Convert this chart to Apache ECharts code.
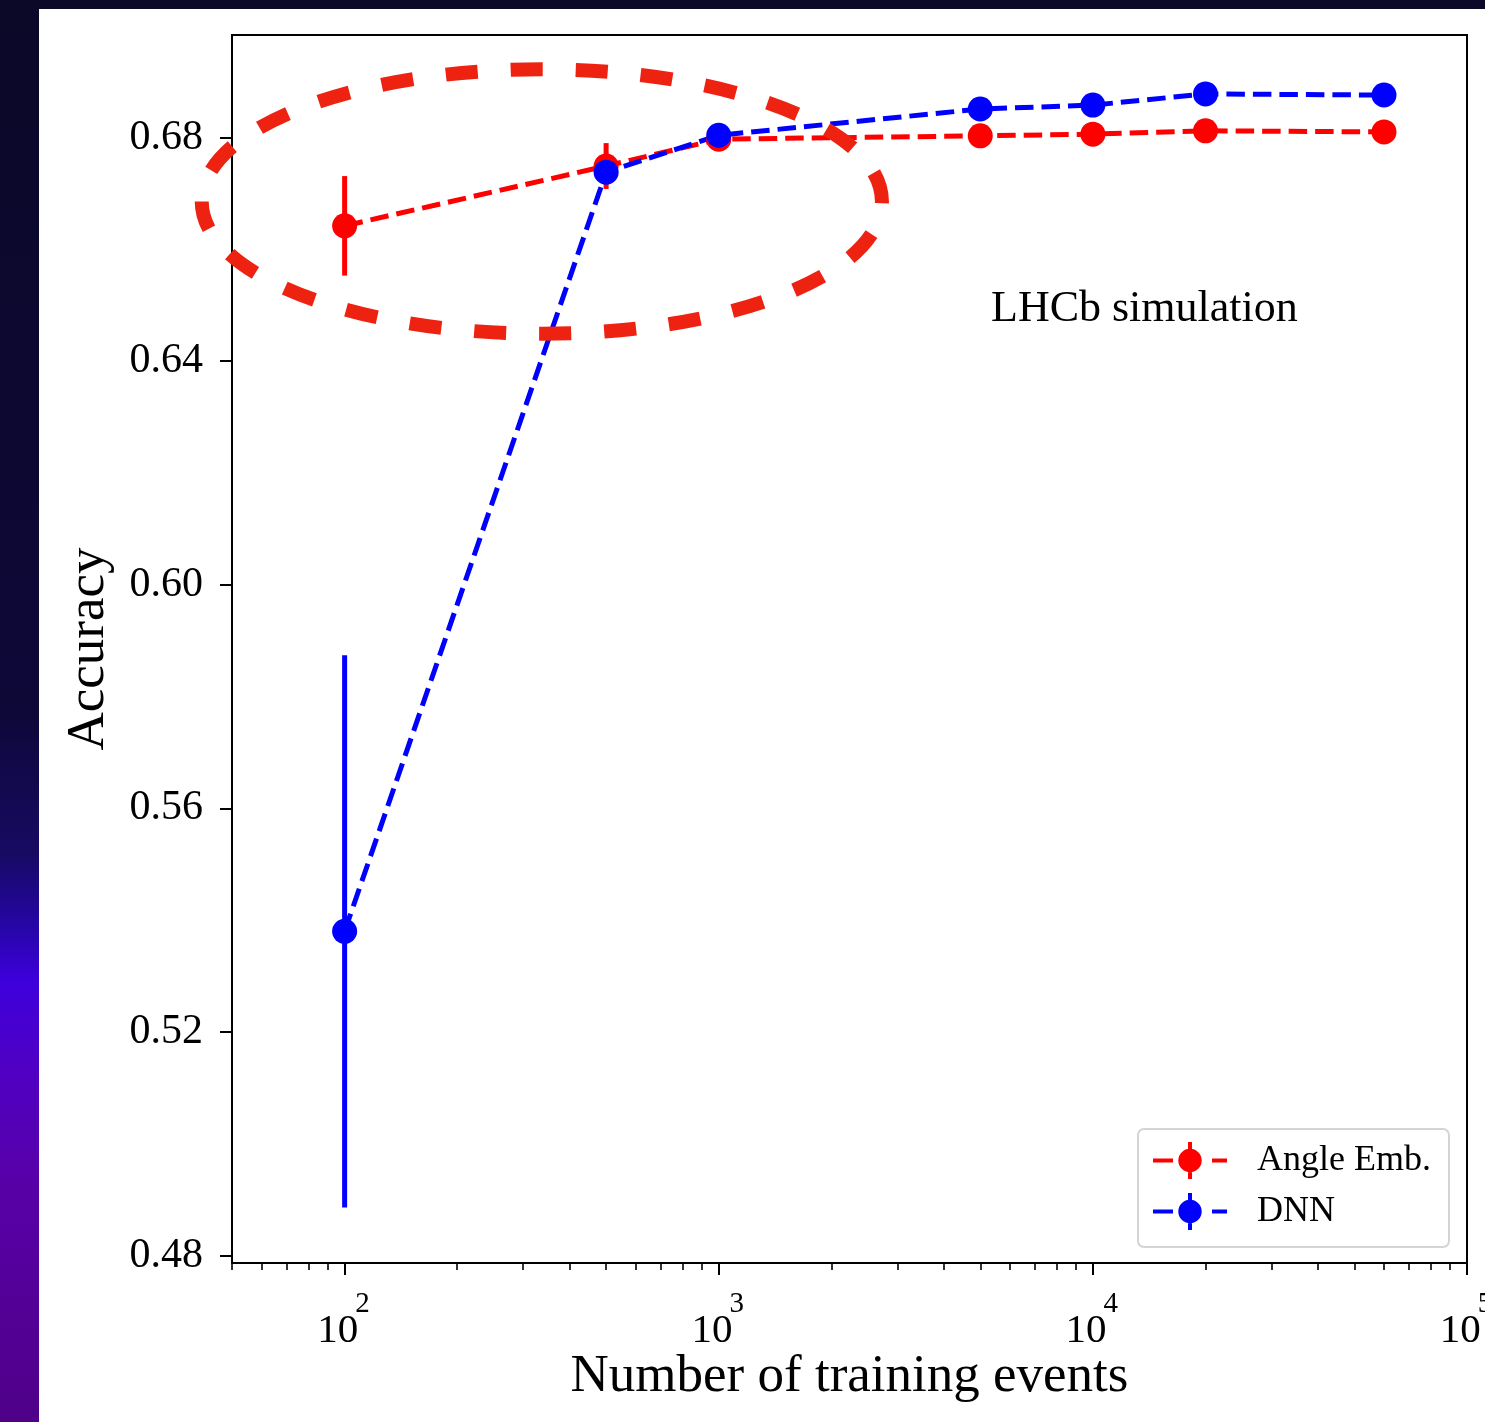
<!DOCTYPE html>
<html>
<head>
<meta charset="utf-8">
<title>Accuracy vs number of training events</title>
<script src="https://cdn.jsdelivr.net/npm/echarts@6/dist/echarts.min.js"></script>
<style>
  html, body { margin: 0; padding: 0; background: #ffffff; }
  #chart { width: 1485px; height: 1422px; }
</style>
</head>
<body>
<div id="chart"></div>
<script>
// Training-set sizes (log x axis)
const trainingEvents = [100, 500, 1000, 5000, 10000, 20000, 60000];

// Angle embedding classifier: accuracy and its uncertainty
const angleAcc = [0.6642, 0.6749, 0.6797, 0.6803, 0.6806, 0.6812, 0.6810];
const angleErr = [0.0089, 0.0041, 0.0012, 0.0008, 0.0007, 0.0006, 0.0005];

// Dense neural network: accuracy and its uncertainty
const dnnAcc = [0.5380, 0.6738, 0.6804, 0.6851, 0.6858, 0.6878, 0.6876];
const dnnErr = [0.0494, 0.0015, 0.0010, 0.0008, 0.0007, 0.0005, 0.0004];

// Axis ticks
const xMajorTicks = [100, 1000, 10000, 100000];
const xMinorTicks = [50, 60, 70, 80, 90,
  200, 300, 400, 500, 600, 700, 800, 900,
  2000, 3000, 4000, 5000, 6000, 7000, 8000, 9000,
  20000, 30000, 40000, 50000, 60000, 70000, 80000, 90000];
const yTicks = [0.48, 0.52, 0.56, 0.60, 0.64, 0.68];

// Highlight ring around the low-statistics region (data coordinates)
const ringX = [41.5, 2730];
const ringY = [0.6449, 0.6922];

const SERIF = '"Liberation Serif", "Times New Roman", serif';
const RED = '#ff0000';
const BLUE = '#0000ff';

const legendIcon = 'path://M0 16.5h20v4h-20z M35 0h4v37h-4z M59 16.5h15v4h-15z ' +
  'M25.3 18.5a11.7 11.7 0 1 1 23.4 0a11.7 11.7 0 1 1 -23.4 0z';

function errorSeries(name, color, values, errs) {
  return {
    type: 'custom',
    name: name,
    xAxisIndex: 0,
    yAxisIndex: 0,
    silent: true,
    itemStyle: { color: color },
    data: trainingEvents.map((x, i) => [x, values[i] - errs[i], values[i] + errs[i]]),
    encode: { x: 0, y: [1, 2] },
    renderItem: function (params, api) {
      const lo = api.coord([api.value(0), api.value(1)]);
      const hi = api.coord([api.value(0), api.value(2)]);
      return {
        type: 'line',
        shape: { x1: lo[0], y1: lo[1], x2: hi[0], y2: hi[1] },
        style: { stroke: color, lineWidth: 5 }
      };
    }
  };
}

function lineSeries(name, color, values) {
  return {
    type: 'line',
    name: name,
    xAxisIndex: 0,
    yAxisIndex: 0,
    data: trainingEvents.map((x, i) => [x, values[i]]),
    symbol: 'circle',
    symbolSize: 25,
    itemStyle: { color: color, borderWidth: 0 },
    lineStyle: { color: color, width: 5, type: [18.5, 8] },
    emphasis: { disabled: true }
  };
}

const chart = echarts.init(document.getElementById('chart'), null, { renderer: 'canvas' });

const option = {
  animation: false,
  backgroundColor: '#ffffff',
  grid: {
    left: 232, top: 35, right: 18, bottom: 159,
    show: true, borderColor: '#000000', borderWidth: 2, backgroundColor: '#ffffff',
    containLabel: false, outerBoundsMode: 'none'
  },
  xAxis: [
    {
      type: 'log', logBase: 10, min: 50, max: 100000, position: 'bottom',
      name: 'Number of training events', nameLocation: 'middle', nameGap: 88,
      nameMoveOverlap: false,
      nameTextStyle: { fontFamily: SERIF, fontSize: 53, color: '#000' },
      axisLine: { show: true, lineStyle: { color: '#000', width: 2 } },
      axisTick: { show: true, inside: false, length: 12, customValues: xMajorTicks,
        lineStyle: { color: '#000', width: 2 } },
      axisLabel: {
        customValues: xMajorTicks, margin: 27,
        formatter: v => '{b|10}{s|' + Math.round(Math.log10(v)) + '}',
        rich: {
          b: { fontFamily: SERIF, fontSize: 41, lineHeight: 62, width: 38, align: 'left',
               verticalAlign: 'bottom', color: '#000' },
          s: { fontFamily: SERIF, fontSize: 29, lineHeight: 30, verticalAlign: 'top',
               padding: [0, 2, 0, 0], color: '#000' }
        }
      },
      splitLine: { show: false },
      minorTick: { show: false }
    },
    {
      type: 'log', logBase: 10, min: 50, max: 100000, position: 'bottom',
      axisLine: { show: false },
      axisTick: { show: true, inside: false, length: 7, customValues: xMinorTicks,
        lineStyle: { color: '#000', width: 1.6 } },
      axisLabel: { show: false },
      splitLine: { show: false }
    }
  ],
  yAxis: {
    type: 'value', min: 0.47866, max: 0.69834,
    name: 'Accuracy', nameLocation: 'middle', nameGap: 116, nameRotate: 90,
    nameMoveOverlap: false,
    nameTextStyle: { fontFamily: SERIF, fontSize: 53, color: '#000' },
    axisLine: { show: true, lineStyle: { color: '#000', width: 2 } },
    axisTick: { show: true, inside: false, length: 12, customValues: yTicks,
      lineStyle: { color: '#000', width: 2 } },
    axisLabel: { customValues: yTicks, margin: 29, fontFamily: SERIF, fontSize: 42, color: '#000',
      formatter: v => v.toFixed(2) },
    splitLine: { show: false }
  },
  legend: {
    orient: 'vertical',
    left: 1138, top: 1129,
    padding: [13, 18, 17, 15],
    itemGap: 14,
    itemWidth: 74, itemHeight: 37,
    backgroundColor: '#ffffff',
    borderColor: '#d4d4d4', borderWidth: 2, borderRadius: 6,
    selectedMode: false,
    itemStyle: { borderWidth: 0 },
    textStyle: { fontFamily: SERIF, fontSize: 36, color: '#000', lineHeight: 37, padding: [0, 0, 0, 25] },
    data: [
      { name: 'Angle Emb.', icon: legendIcon },
      { name: 'DNN', icon: legendIcon }
    ]
  },
  graphic: [
    { type: 'rect', id: 'bandTop', silent: true, z: -10,
      shape: { x: 0, y: 0, width: 1485, height: 9 }, style: { fill: '#0b0828' } },
    { type: 'rect', id: 'bandLeft', silent: true, z: -10,
      shape: { x: 0, y: 0, width: 39, height: 1422 },
      style: { fill: new echarts.graphic.LinearGradient(0, 0, 0, 1, [
        { offset: 0.00, color: '#0b0828' },
        { offset: 0.50, color: '#0e0838' },
        { offset: 0.60, color: '#170a62' },
        { offset: 0.65, color: '#2506a5' },
        { offset: 0.69, color: '#3d00dc' },
        { offset: 0.75, color: '#5000c4' },
        { offset: 0.83, color: '#5800a8' },
        { offset: 1.00, color: '#4f0088' }
      ]) } },
    { type: 'text', id: 'simLabel', silent: true, z: 50,
      style: { x: 991, y: 309, text: 'LHCb simulation', fontFamily: SERIF, fontSize: 44,
        fill: '#000', verticalAlign: 'middle', align: 'left' } }
  ],
  series: [
    errorSeries('Angle Emb. uncertainty', RED, angleAcc, angleErr),
    lineSeries('Angle Emb.', RED, angleAcc),
    errorSeries('DNN uncertainty', BLUE, dnnAcc, dnnErr),
    lineSeries('DNN', BLUE, dnnAcc)
  ]
};

chart.setOption(option);

// Dashed ring placed from data coordinates
const p1 = chart.convertToPixel({ xAxisIndex: 0, yAxisIndex: 0 }, [ringX[0], ringY[1]]);
const p2 = chart.convertToPixel({ xAxisIndex: 0, yAxisIndex: 0 }, [ringX[1], ringY[0]]);
chart.setOption({
  graphic: [
    { type: 'ellipse', id: 'ring', silent: true, z: 100,
      shape: { cx: (p1[0] + p2[0]) / 2, cy: (p1[1] + p2[1]) / 2,
        rx: Math.abs(p2[0] - p1[0]) / 2, ry: Math.abs(p2[1] - p1[1]) / 2 },
      style: { fill: 'none', stroke: '#ee2211', lineWidth: 14, lineDash: [32, 33], lineDashOffset: 32 } }
  ]
});
</script>
</body>
</html>
